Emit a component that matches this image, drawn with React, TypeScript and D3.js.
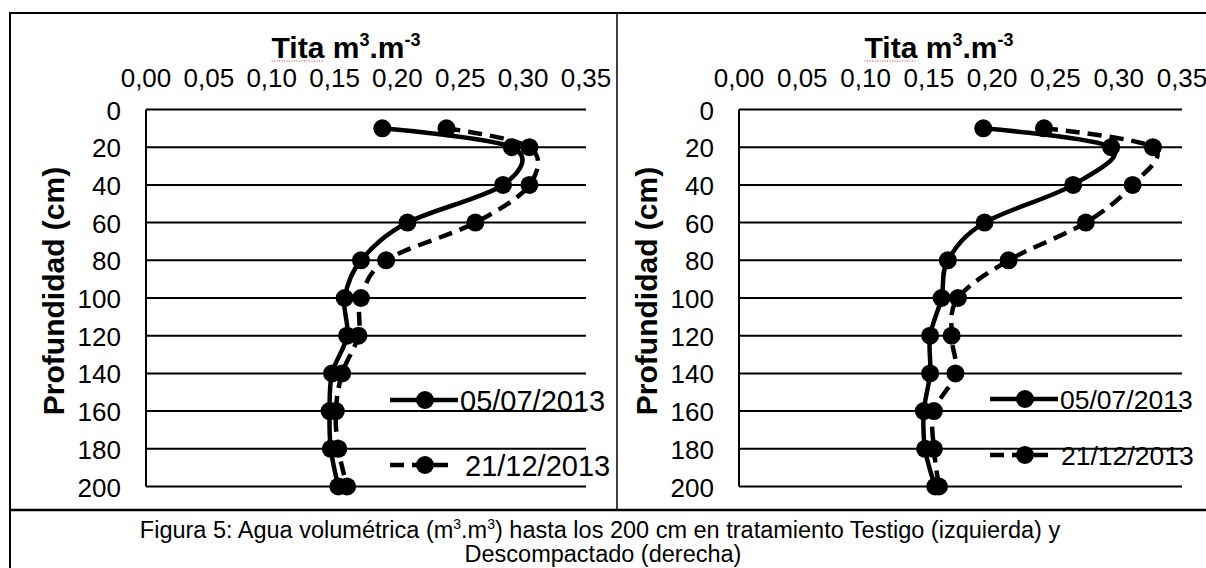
import React, { useEffect, useRef } from "react";
import * as d3 from "d3";

// profundidad (cm) de cada lectura
const depths = [10, 20, 40, 60, 80, 100, 120, 140, 160, 180, 200];
const xTicks = [0, 0.05, 0.1, 0.15, 0.2, 0.25, 0.3, 0.35];
const yTicks = [0, 20, 40, 60, 80, 100, 120, 140, 160, 180, 200];
const seriesNames = ["05/07/2013", "21/12/2013"];

// Testigo (izquierda)
const testigoJul = [0.188, 0.291, 0.284, 0.208, 0.171, 0.158, 0.16, 0.148, 0.146, 0.147, 0.153];
const testigoDic = [0.239, 0.305, 0.305, 0.262, 0.191, 0.171, 0.169, 0.156, 0.151, 0.153, 0.16];
// Descompactado (derecha)
const descJul = [0.193, 0.294, 0.264, 0.194, 0.165, 0.16, 0.151, 0.151, 0.146, 0.147, 0.155];
const descDic = [0.241, 0.327, 0.311, 0.274, 0.213, 0.173, 0.168, 0.171, 0.154, 0.154, 0.158];

const panels = [
  { left: 146, right: 586, jul: testigoJul, dic: testigoDic, legX: 390, legY: [400, 465], legFont: 29, gap: [70, 75] },
  { left: 739, right: 1182, jul: descJul, dic: descDic, legX: 990, legY: [399, 455], legFont: 26.5, gap: [70, 71] },
];

const FONT = "'Liberation Sans', Arial, sans-serif";
const fmt = (v: number) => d3.format(".2f")(v).replace(".", ",");

export default function App() {
  const svgRef = useRef<SVGSVGElement>(null);

  useEffect(() => {
    document.body.style.margin = "0";
    const svg = d3.select(svgRef.current);
    svg.selectAll("*").remove();

    svg.append("rect").attr("width", 1206).attr("height", 568).attr("fill", "#fff");

    // marco de la figura
    const frame = svg.append("g").attr("stroke", "#000").attr("fill", "none");
    frame.append("line").attr("x1", 10).attr("x2", 1206).attr("y1", 13).attr("y2", 13).attr("stroke-width", 2);
    frame.append("line").attr("x1", 10).attr("x2", 10).attr("y1", 12).attr("y2", 568).attr("stroke-width", 2);
    frame.append("line").attr("x1", 617).attr("x2", 617).attr("y1", 13).attr("y2", 510).attr("stroke-width", 1.5);
    frame.append("line").attr("x1", 10).attr("x2", 1206).attr("y1", 510).attr("y2", 510).attr("stroke-width", 2.5);

    const y = d3.scaleLinear().domain([0, 200]).range([109.5, 486.5]);

    panels.forEach((p) => {
      const x = d3.scaleLinear().domain([0, 0.35]).range([p.left, p.right]);
      const g = svg.append("g").attr("font-family", FONT);

      // lineas de division
      g.selectAll(".grid")
        .data(yTicks)
        .join("line")
        .attr("x1", x(0))
        .attr("x2", x(0.35))
        .attr("y1", (d) => y(d))
        .attr("y2", (d) => y(d))
        .attr("stroke", "#000")
        .attr("stroke-width", 2);
      g.append("line")
        .attr("x1", x(0))
        .attr("x2", x(0))
        .attr("y1", y(0))
        .attr("y2", y(200))
        .attr("stroke", "#000")
        .attr("stroke-width", 2);

      g.selectAll(".ylab")
        .data(yTicks)
        .join("text")
        .attr("x", x(0) - 25)
        .attr("y", (d) => y(d) + 1)
        .attr("text-anchor", "end")
        .attr("dominant-baseline", "central")
        .attr("font-size", 26)
        .text((d) => d);

      g.selectAll(".xlab")
        .data(xTicks)
        .join("text")
        .attr("x", (d) => x(d))
        .attr("y", 87)
        .attr("text-anchor", "middle")
        .attr("font-size", 26)
        .text((d) => fmt(d));

      // titulo superior
      const title = g
        .append("text")
        .attr("x", p.left + 200)
        .attr("y", 58)
        .attr("text-anchor", "middle")
        .attr("font-size", 30)
        .attr("font-weight", "bold");
      title.append("tspan").text("Tita m");
      title.append("tspan").attr("font-size", 18).attr("dy", -12).text("3");
      title.append("tspan").attr("dy", 12).text(".m");
      title.append("tspan").attr("font-size", 18).attr("dy", -12).text("-3");

      const tn = title.node() as SVGTextElement;
      const bb = tn.getBBox();
      const tw = tn.getSubStringLength(0, 4);
      g.append("line")
        .attr("x1", bb.x)
        .attr("x2", bb.x + tw)
        .attr("y1", 61)
        .attr("y2", 61)
        .attr("stroke", "#e03030")
        .attr("stroke-width", 1.2)
        .attr("stroke-dasharray", "1,1.5");

      g.append("text")
        .attr("transform", `translate(${p.left - 93},291) rotate(-90)`)
        .attr("text-anchor", "middle")
        .attr("dominant-baseline", "central")
        .attr("font-size", 30)
        .attr("font-weight", "bold")
        .text("Profundidad (cm)");

      const line = d3
        .line<number>()
        .x((d) => x(d))
        .y((_, i) => y(depths[i]))
        .curve(d3.curveCardinal.tension(0));

      const series = [
        { vals: p.jul, dash: null },
        { vals: p.dic, dash: "14,8" },
      ];

      series.forEach((s, si) => {
        g.append("path")
          .attr("d", line(s.vals))
          .attr("fill", "none")
          .attr("stroke", "#000")
          .attr("stroke-width", 4.5)
          .attr("stroke-dasharray", s.dash);
        g.selectAll(`.m${si}`)
          .data(s.vals)
          .join("circle")
          .attr("cx", (d) => x(d))
          .attr("cy", (_, i) => y(depths[i]))
          .attr("r", 9)
          .attr("fill", "#000");

        // leyenda
        const ly = p.legY[si];
        g.append("line")
          .attr("x1", p.legX)
          .attr("x2", p.legX + (si === 0 ? 68 : 62))
          .attr("y1", ly)
          .attr("y2", ly)
          .attr("stroke", "#000")
          .attr("stroke-width", 4.5)
          .attr("stroke-dasharray", s.dash);
        g.append("circle").attr("cx", p.legX + 35).attr("cy", ly).attr("r", 9).attr("fill", "#000");
        g.append("text")
          .attr("x", p.legX + p.gap[si])
          .attr("y", ly + 1)
          .attr("dominant-baseline", "central")
          .attr("font-size", p.legFont)
          .text(seriesNames[si]);
      });
    });

    // pie de figura
    const cap = svg.append("g").attr("font-family", FONT).attr("font-size", 23.5).attr("text-anchor", "middle");
    const c1 = cap.append("text").attr("x", 600).attr("y", 538);
    c1.append("tspan").text("Figura 5: Agua volumétrica (m");
    c1.append("tspan").attr("font-size", 14).attr("dy", -9).text("3");
    c1.append("tspan").attr("dy", 9).text(".m");
    c1.append("tspan").attr("font-size", 14).attr("dy", -9).text("3");
    c1.append("tspan").attr("dy", 9).text(") hasta los 200 cm en tratamiento Testigo (izquierda) y");
    cap.append("text").attr("x", 603).attr("y", 562).text("Descompactado (derecha)");
  }, []);

  return <svg ref={svgRef} width={1206} height={568} style={{ display: "block" }} />;
}
